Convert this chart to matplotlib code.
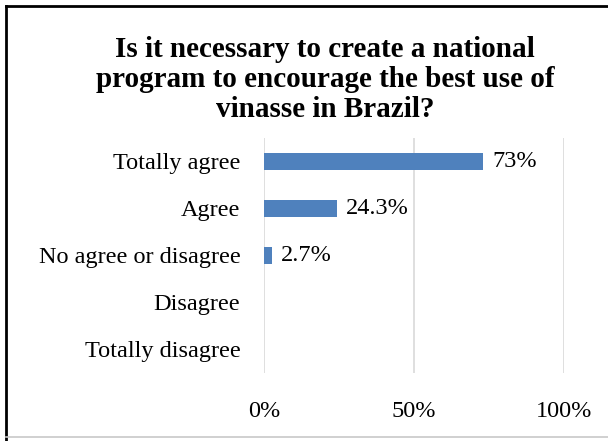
import matplotlib.pyplot as plt
from matplotlib.lines import Line2D

categories = ["Totally agree", "Agree", "No agree or disagree", "Disagree", "Totally disagree"]
values = [73, 24.3, 2.7, 0, 0]
labels = ["73%", "24.3%", "2.7%", "", ""]
ticks = [0, 50, 100]
tick_labels = ["0%", "50%", "100%"]

plt.rcParams["font.family"] = ["Liberation Serif", "DejaVu Serif"]

fig = plt.figure(figsize=(6.08, 4.41), dpi=100)
ax = fig.add_axes([0.434, 0.155, 0.494, 0.532])

y = range(len(categories))
ax.barh(y, values, height=0.35, color="#4F81BD")
for i, v in enumerate(values):
    if labels[i]:
        ax.text(v + 3, i, labels[i], fontsize=17.5, va="center", ha="left")

ax.set_xlim(0, 100)
ax.set_ylim(len(categories) - 0.5, -0.5)
ax.set_yticks(list(y))
ax.set_yticklabels(categories, fontsize=17.5)
ax.set_xticks(ticks)
ax.set_xticklabels(tick_labels, fontsize=17.5)
ax.tick_params(length=0)
ax.tick_params(axis="x", pad=20.5)
ax.tick_params(axis="y", pad=17)
for s in ax.spines.values():
    s.set_visible(False)
ax.grid(axis="x", color="#D9D9D9", linewidth=1.2)
ax.set_axisbelow(True)

fig.text(0.535, 0.82, "Is it necessary to create a national\nprogram to encourage the best use of\nvinasse in Brazil?",
         ha="center", va="center", fontsize=21, fontweight="bold", linespacing=1.14)

# frame: black left/top, light gray bottom
fig.lines.append(Line2D([0.010, 0.010], [0.0, 0.986], transform=fig.transFigure, color="black", linewidth=2))
fig.lines.append(Line2D([0.010, 1.0], [0.986, 0.986], transform=fig.transFigure, color="black", linewidth=2))
fig.lines.append(Line2D([0.010, 1.0], [0.009, 0.009], transform=fig.transFigure, color="#C8C8C8", linewidth=1.2))

fig.savefig("out.png", dpi=100)
